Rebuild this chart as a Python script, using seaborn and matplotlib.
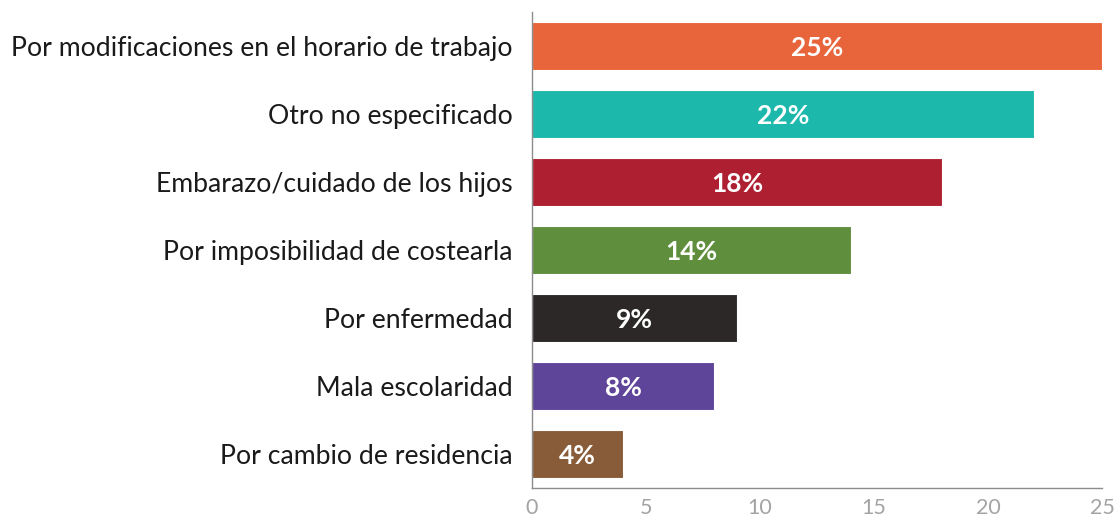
import matplotlib
matplotlib.use("Agg")
import matplotlib.pyplot as plt
import seaborn as sns
import pandas as pd

categories = [
    "Por modificaciones en el horario de trabajo",
    "Otro no especificado",
    "Embarazo/cuidado de los hijos",
    "Por imposibilidad de costearla",
    "Por enfermedad",
    "Mala escolaridad",
    "Por cambio de residencia",
]
values = [25, 22, 18, 14, 9, 8, 4]
colors = ["#E8643A", "#1DB8AC", "#AE1F32", "#5F8E3D", "#2C2828", "#5F4599", "#895C39"]
ticks = [0, 5, 10, 15, 20, 25]

sns.set_theme(style="white")
plt.rcParams["font.family"] = ["Lato", "DejaVu Sans"]

df = pd.DataFrame({"motivo": categories, "pct": values})

fig = plt.figure(figsize=(11.15, 5.16), dpi=100)
ax = fig.add_axes([532 / 1115, 1 - 488 / 516, (1102 - 532) / 1115, (488 - 12) / 516])

sns.barplot(data=df, x="pct", y="motivo", hue="motivo", palette=colors,
            order=categories, hue_order=categories, legend=False,
            width=0.7, edgecolor="white", linewidth=0.8, saturation=1, ax=ax)

for i, v in enumerate(values):
    ax.text(v / 2, i + 0.03, f"{v}%", ha="center", va="center", color="white",
            fontsize=19, fontweight="bold")

ax.set_xlim(0, 25)
ax.set_ylim(6.5, -0.5)
ax.set_xticks(ticks)
ax.set_xticklabels([str(t) for t in ticks])
ax.set_xlabel("")
ax.set_ylabel("")

for side in ["top", "right"]:
    ax.spines[side].set_visible(False)
for side in ["left", "bottom"]:
    ax.spines[side].set_color("#8c8c8c")
    ax.spines[side].set_linewidth(1.0)

ax.tick_params(axis="x", direction="in", length=7.5, width=1, color="#8c8c8c",
               labelsize=15.5, labelcolor="#a3a3a3", pad=7)
ax.tick_params(axis="y", length=0, labelsize=19.2, labelcolor="#1a1a1a", pad=14)

fig.savefig("out.png", dpi=100)
